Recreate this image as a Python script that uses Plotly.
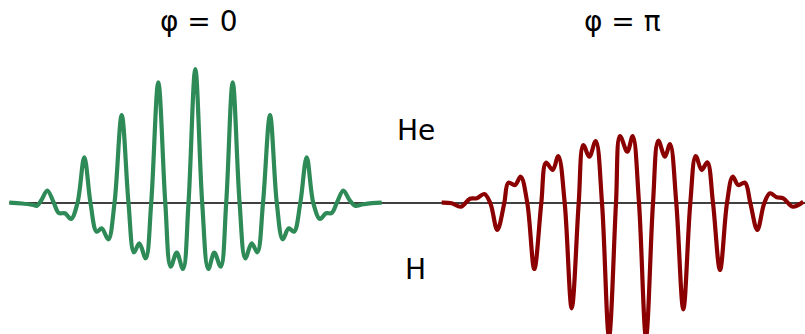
import plotly.graph_objects as go

# phi = 0 pulse (green): time samples and field amplitude
t_phi0 = [9.3, 22, 33.3, 37, 41.5, 47.3, 53.5, 58.8, 65, 71, 77.5, 84.3, 90.5, 96.7, 101.7, 108.3,
          114.5, 121.7, 128.5, 134, 139.3, 145.7, 151.2, 158.3, 165.3, 170.7, 176.7, 183, 188.5,
          195.3, 202.2, 208.3, 214.3, 220.7, 226.2, 232.7, 239.6, 245.3, 251.7, 257.3, 263, 270,
          276.8, 282.7, 288.7, 294, 300.3, 306.7, 313.3, 320, 326, 331.7, 337.2, 343.3, 349.5,
          355, 362, 372, 381.7]
e_phi0 = [0.3, -0.5, -2, -2.7, 3, 12.5, 1, -10, -10.3, -16, 0, 45.7, 0, -28.7, -25.3, -36.3,
          0, 88, 0, -49.3, -40.3, -55.3, 0, 120.7, 0, -63.7, -49.7, -66, 0,
          134, 0, -66, -49.7, -63.7, 0, 120.7, 0, -55.3, -40.3, -49.3, 0, 88,
          0, -36.3, -25.3, -28.7, 0, 45.7, 0, -16, -10.3, -10, 1, 12.5, 3,
          -2.7, -1.5, -0.2, 0.3]

# phi = pi pulse (dark red)
t_phipi = [441.7, 451.7, 460.7, 470, 476.7, 484.3, 490.3, 497.3, 504.3, 508.3, 515, 520.7, 527.3,
           534.3, 541.3, 546, 552.7, 558.3, 564.7, 571.7, 578.7, 583.3, 589.3, 595.7, 602, 609,
           616, 620, 627.3, 632.7, 639, 646, 653, 658.3, 665, 670, 676.3, 683.3, 690.3, 695.7,
           701.7, 707.3, 713, 720, 727, 732.7, 738.3, 745, 750.3, 757.3, 764.3, 770, 776.7,
           783.3, 792.7, 803.3]
e_phipi = [0.3, -0.3, -3.7, 4.3, 4.7, 9, 0, -27, 0, 20.3, 18, 26.3, 0,
           -66, 0, 40.3, 33, 47, 0, -105.3, 0, 58, 46.3, 62, 0, -134,
           0, 67, 51.3, 67, 0, -134, 0, 62.3, 46.3, 59, 0, -106.3, 0, 47,
           33, 40.7, 0, -67, 0, 26.3, 18, 20.3, 0, -27, 0, 9.7, 5.7,
           4.7, -3.7, 1.3]

titles = ["φ = 0", "φ = π"]
labels = ["He", "H"]

fig = go.Figure()
fig.add_trace(go.Scatter(x=t_phi0, y=e_phi0, mode="lines",
                         line=dict(color="#2E8B57", width=4.2, shape="spline", smoothing=1),
                         hoverinfo="skip", showlegend=False))
fig.add_trace(go.Scatter(x=t_phipi, y=e_phipi, mode="lines",
                         line=dict(color="#8B0000", width=4.2, shape="spline", smoothing=1),
                         hoverinfo="skip", showlegend=False))

fig.add_shape(type="line", xref="x", yref="y", x0=t_phi0[0], x1=805, y0=0, y1=0,
              line=dict(color="black", width=1.6), layer="below")

font = dict(family="DejaVu Sans", size=28, color="black")
fig.add_annotation(text=titles[0], xref="paper", yref="paper", x=199 / 805, y=1 - 21 / 334,
                   showarrow=False, font=font, xanchor="center", yanchor="middle")
fig.add_annotation(text=titles[1], xref="paper", yref="paper", x=622 / 805, y=1 - 21 / 334,
                   showarrow=False, font=font, xanchor="center", yanchor="middle")
fig.add_annotation(text=labels[0], xref="paper", yref="paper", x=416 / 805, y=1 - 130 / 334,
                   showarrow=False, font=font, xanchor="center", yanchor="middle")
fig.add_annotation(text=labels[1], xref="paper", yref="paper", x=415 / 805, y=1 - 269 / 334,
                   showarrow=False, font=font, xanchor="center", yanchor="middle")

fig.update_xaxes(range=[0, 805], visible=False, fixedrange=True)
fig.update_yaxes(range=[-131, 203], visible=False, fixedrange=True)
fig.update_layout(width=805, height=334, margin=dict(l=0, r=0, t=0, b=0),
                  paper_bgcolor="white", plot_bgcolor="white")

fig.write_html("out.html", config={"displayModeBar": False},
               post_script="document.body.style.margin='0';document.body.style.overflow='hidden';")
